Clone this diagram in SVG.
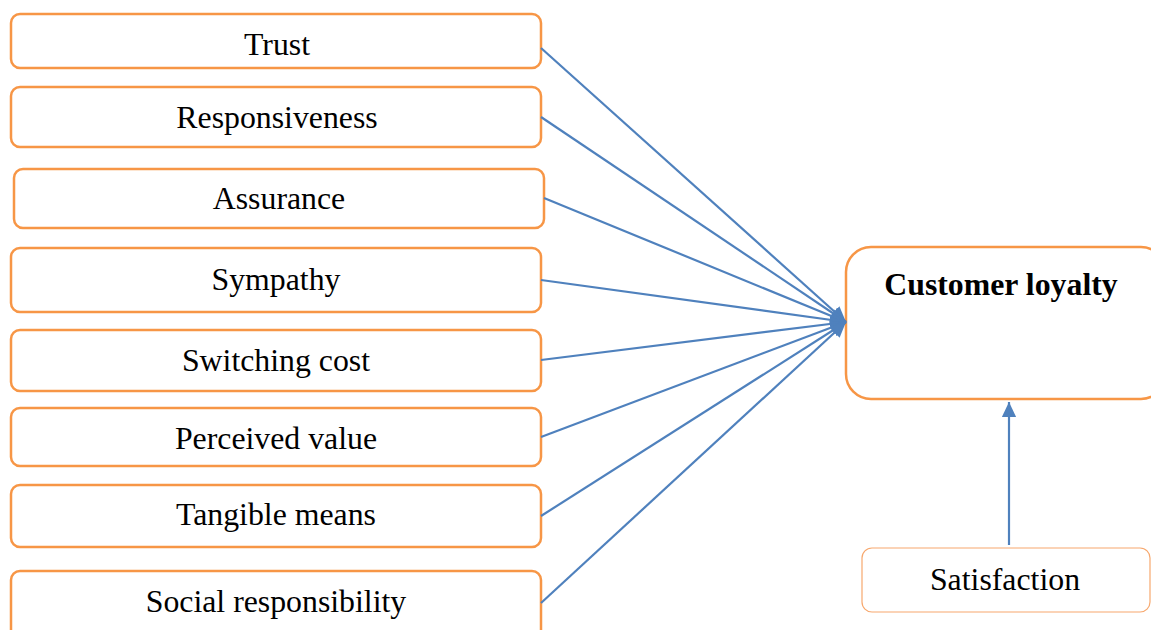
<svg xmlns="http://www.w3.org/2000/svg" width="1151" height="630" viewBox="0 0 1151 630">
  <style>
    .box { fill: #ffffff; stroke: #F79646; stroke-width: 2.5; }
    .box-thin { fill: #ffffff; stroke: #F7A86E; stroke-width: 1.2; }
    .lbl { font-family: "Liberation Serif", "Times New Roman", serif; font-size: 31.8px; fill: #000000; text-anchor: middle; }
    .lbl-bold { font-family: "Liberation Serif", "Times New Roman", serif; font-size: 31.8px; font-weight: bold; fill: #000000; text-anchor: middle; }
    .link { stroke: #4F81BD; stroke-width: 2.2; fill: none; }
  </style>
  <defs>
    <marker id="arrow" markerWidth="7" markerHeight="6.6" refX="7" refY="3.3" orient="auto" markerUnits="strokeWidth">
      <path d="M0,0 L7,3.3 L0,6.6 Z" fill="#4F81BD"/>
    </marker>
  </defs>

  <rect x="0" y="0" width="1151" height="630" fill="#ffffff"/>

  <!-- factor boxes -->
  <g id="trust">
    <rect class="box" x="11" y="14" width="530" height="54" rx="9"/>
    <text class="lbl" x="277" y="55">Trust</text>
  </g>
  <g id="responsiveness">
    <rect class="box" x="11" y="87" width="530" height="60" rx="9"/>
    <text class="lbl" x="277" y="128">Responsiveness</text>
  </g>
  <g id="assurance">
    <rect class="box" x="14" y="169" width="530" height="59" rx="9"/>
    <text class="lbl" x="279" y="209">Assurance</text>
  </g>
  <g id="sympathy">
    <rect class="box" x="11" y="248" width="530" height="64" rx="9"/>
    <text class="lbl" x="276" y="290">Sympathy</text>
  </g>
  <g id="switching-cost">
    <rect class="box" x="11" y="330" width="530" height="61" rx="9"/>
    <text class="lbl" x="276" y="371">Switching cost</text>
  </g>
  <g id="perceived-value">
    <rect class="box" x="11" y="408" width="530" height="58" rx="9"/>
    <text class="lbl" x="276" y="449">Perceived value</text>
  </g>
  <g id="tangible-means">
    <rect class="box" x="11" y="485" width="530" height="62" rx="9"/>
    <text class="lbl" x="276" y="525">Tangible means</text>
  </g>
  <g id="social-responsibility">
    <rect class="box" x="11" y="571" width="530" height="70" rx="9"/>
    <text class="lbl" x="276" y="612">Social responsibility</text>
  </g>

  <!-- outcome box -->
  <g id="customer-loyalty">
    <rect class="box" x="846" y="247" width="320" height="152" rx="25"/>
    <text class="lbl-bold" x="1001" y="295">Customer loyalty</text>
  </g>

  <!-- moderating box -->
  <g id="satisfaction">
    <rect class="box-thin" x="862" y="548" width="288" height="64" rx="10"/>
    <text class="lbl" x="1005" y="590">Satisfaction</text>
  </g>

  <!-- connectors -->
  <g id="connectors">
    <line class="link" x1="541" y1="48" x2="846" y2="322" marker-end="url(#arrow)"/>
    <line class="link" x1="541" y1="117" x2="846" y2="322" marker-end="url(#arrow)"/>
    <line class="link" x1="544" y1="198" x2="846" y2="322" marker-end="url(#arrow)"/>
    <line class="link" x1="541" y1="280" x2="846" y2="322" marker-end="url(#arrow)"/>
    <line class="link" x1="541" y1="360" x2="846" y2="322" marker-end="url(#arrow)"/>
    <line class="link" x1="541" y1="437" x2="846" y2="322" marker-end="url(#arrow)"/>
    <line class="link" x1="541" y1="516" x2="846" y2="322" marker-end="url(#arrow)"/>
    <line class="link" x1="541" y1="603" x2="846" y2="322" marker-end="url(#arrow)"/>
    <line class="link" x1="1009" y1="545" x2="1009" y2="402" marker-end="url(#arrow)"/>
  </g>
</svg>
